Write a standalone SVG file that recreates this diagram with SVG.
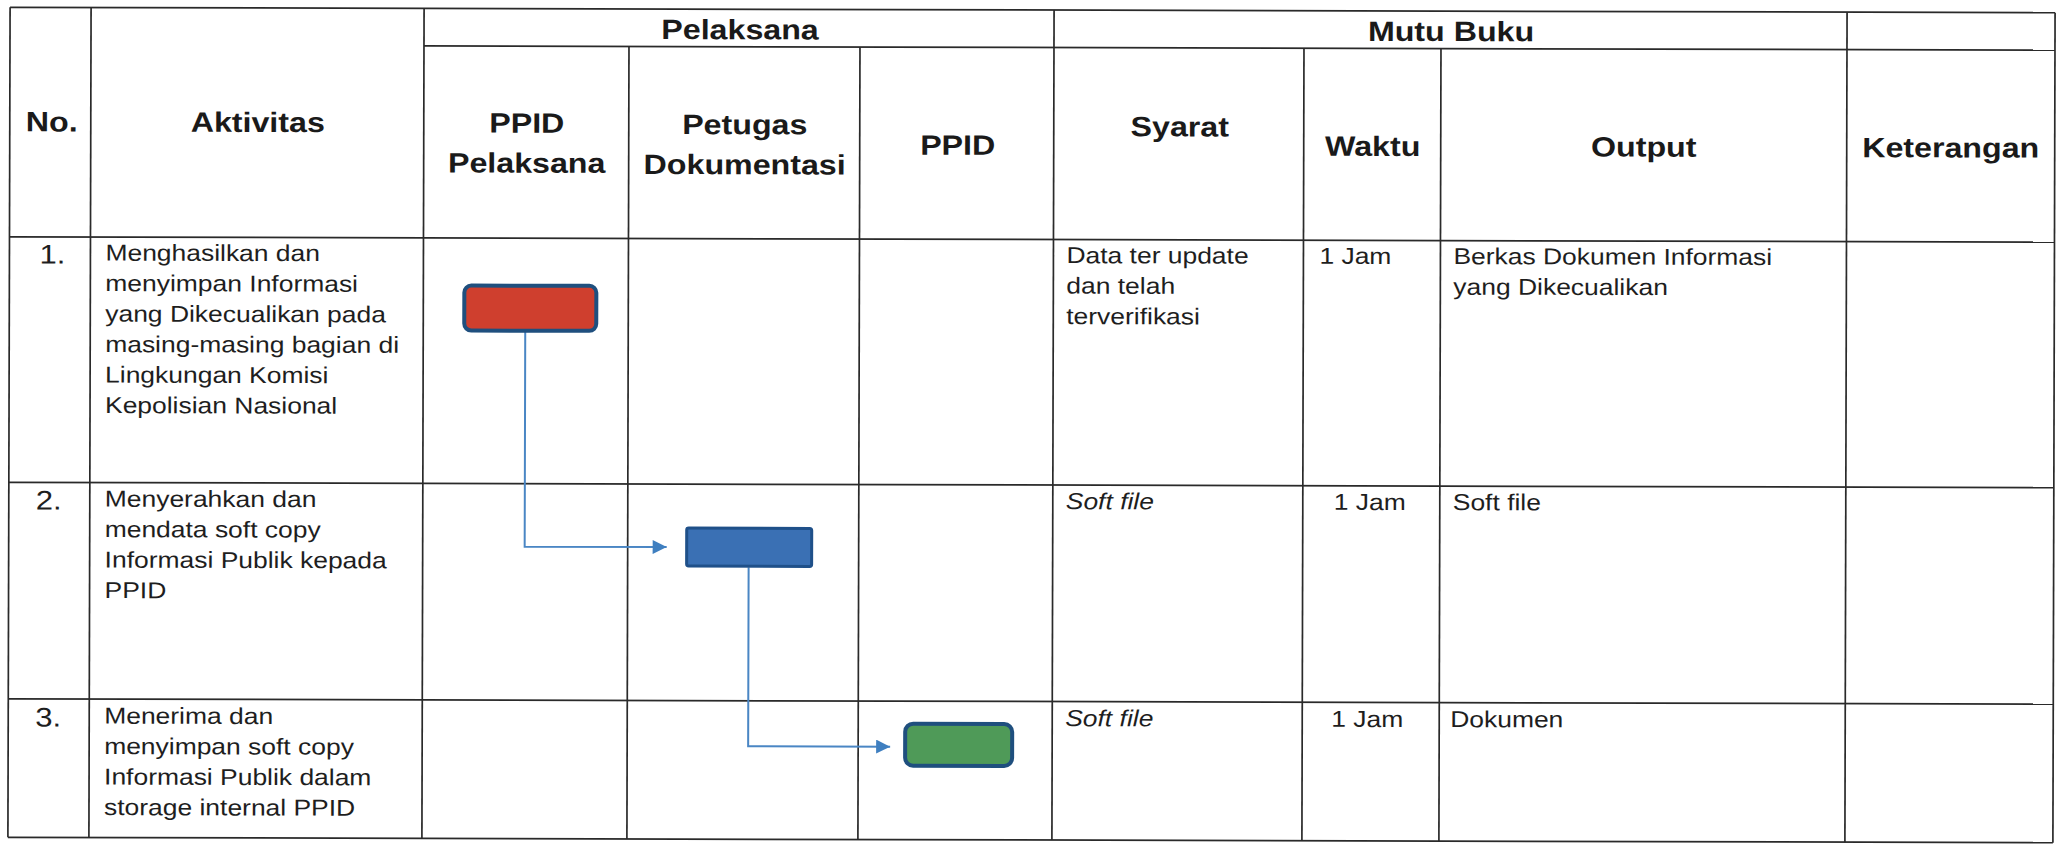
<svg xmlns="http://www.w3.org/2000/svg" width="2063" height="844" viewBox="0 0 2063 844">
<style>
.grid line{stroke:#2a2a2a;stroke-width:1.7}
.h{font-family:"Liberation Sans",Arial,sans-serif;font-weight:bold;font-size:28px;fill:#1a1a1a;text-anchor:middle}
.b{font-family:"Liberation Sans",Arial,sans-serif;font-size:23px;fill:#1e1e1e}
.n{font-family:"Liberation Sans",Arial,sans-serif;font-size:27px;fill:#1e1e1e}
.i{font-style:italic}
.conn{fill:none;stroke:#4a86c4;stroke-width:2}
</style>
<defs>
<marker id="arr" viewBox="0 0 10 10" refX="10" refY="5" markerWidth="15" markerHeight="14" markerUnits="userSpaceOnUse" orient="auto">
<path d="M0,0 L10,5 L0,10 z" fill="#3f7fc0"/>
</marker>
</defs>
<rect width="2063" height="844" fill="#ffffff"/>
<g transform="rotate(0.15 1031 422)">
<g class="grid" id="table">
<line x1="9" y1="10" x2="2054" y2="10"/>
<line x1="423" y1="47.5" x2="2054" y2="47.5"/>
<line x1="9" y1="239.5" x2="2054" y2="239.5"/>
<line x1="9" y1="485" x2="2054" y2="485"/>
<line x1="9" y1="701.5" x2="2054" y2="701.5"/>
<line x1="9" y1="840" x2="2054" y2="840"/>
<line x1="9" y1="10" x2="9" y2="840"/>
<line x1="90" y1="10" x2="90" y2="840"/>
<line x1="423" y1="10" x2="423" y2="840"/>
<line x1="628" y1="47.5" x2="628" y2="840"/>
<line x1="859" y1="47.5" x2="859" y2="840"/>
<line x1="1053" y1="10" x2="1053" y2="840"/>
<line x1="1303" y1="47.5" x2="1303" y2="840"/>
<line x1="1440" y1="47.5" x2="1440" y2="840"/>
<line x1="1846" y1="10" x2="1846" y2="840"/>
<line x1="2054" y1="10" x2="2054" y2="840"/>
</g>
<g id="header">
<text class="h" transform="translate(739,40) scale(1.15,1)">Pelaksana</text>
<text class="h" transform="translate(1450,40) scale(1.15,1)">Mutu Buku</text>
<text class="h" transform="translate(51,134) scale(1.15,1)">No.</text>
<text class="h" transform="translate(257,134) scale(1.15,1)">Aktivitas</text>
<text class="h" transform="translate(526,134) scale(1.15,1)"><tspan x="0" y="0">PPID</tspan><tspan x="0" y="40">Pelaksana</tspan></text>
<text class="h" transform="translate(744,135) scale(1.15,1)"><tspan x="0" y="0">Petugas</tspan><tspan x="0" y="40">Dokumentasi</tspan></text>
<text class="h" transform="translate(957,155) scale(1.15,1)">PPID</text>
<text class="h" transform="translate(1179,136) scale(1.15,1)">Syarat</text>
<text class="h" transform="translate(1372,155) scale(1.15,1)">Waktu</text>
<text class="h" transform="translate(1643,155) scale(1.15,1)">Output</text>
<text class="h" transform="translate(1950,155) scale(1.15,1)">Keterangan</text>
</g>
<g id="row1">
<text class="n" transform="translate(39,266) scale(1.15,1)">1.</text>
<text class="b" transform="translate(105,263) scale(1.15,1)"><tspan x="0" y="0">Menghasilkan dan</tspan><tspan x="0" y="30.5">menyimpan Informasi</tspan><tspan x="0" y="61">yang Dikecualikan pada</tspan><tspan x="0" y="91.5">masing-masing bagian di</tspan><tspan x="0" y="122">Lingkungan Komisi</tspan><tspan x="0" y="152.5">Kepolisian Nasional</tspan></text>
<text class="b" transform="translate(1066,263) scale(1.15,1)"><tspan x="0" y="0">Data ter update</tspan><tspan x="0" y="30.5">dan telah</tspan><tspan x="0" y="61">terverifikasi</tspan></text>
<text class="b" transform="translate(1319,263) scale(1.15,1)">1 Jam</text>
<text class="b" transform="translate(1453,263) scale(1.15,1)"><tspan x="0" y="0">Berkas Dokumen Informasi</tspan><tspan x="0" y="30.5">yang Dikecualikan</tspan></text>
</g>
<g id="row2">
<text class="n" transform="translate(36,512) scale(1.15,1)">2.</text>
<text class="b" transform="translate(105,509) scale(1.15,1)"><tspan x="0" y="0">Menyerahkan dan</tspan><tspan x="0" y="30.5">mendata soft copy</tspan><tspan x="0" y="61">Informasi Publik kepada</tspan><tspan x="0" y="91.5">PPID</tspan></text>
<text class="b i" transform="translate(1066,509) scale(1.15,1)">Soft file</text>
<text class="b" transform="translate(1334,509) scale(1.15,1)">1 Jam</text>
<text class="b" transform="translate(1453,509) scale(1.15,1)">Soft file</text>
</g>
<g id="row3">
<text class="n" transform="translate(36,729) scale(1.15,1)">3.</text>
<text class="b" transform="translate(105,726) scale(1.15,1)"><tspan x="0" y="0">Menerima dan</tspan><tspan x="0" y="30.5">menyimpan soft copy</tspan><tspan x="0" y="61">Informasi Publik dalam</tspan><tspan x="0" y="91.5">storage internal PPID</tspan></text>
<text class="b i" transform="translate(1066,726) scale(1.15,1)">Soft file</text>
<text class="b" transform="translate(1332,726) scale(1.15,1)">1 Jam</text>
<text class="b" transform="translate(1451,726) scale(1.15,1)">Dokumen</text>
</g>
<g id="connectors">
<path class="conn" d="M525,333 V548 H667" marker-end="url(#arr)"/>
<path class="conn" d="M749,568 V747 H891" marker-end="url(#arr)"/>
</g>
<g id="node-ppid-pelaksana">
<rect x="464" y="287" width="132" height="45" rx="7" fill="#cf3f2e" stroke="#1f4f7e" stroke-width="4"/>
</g>
<g id="node-petugas-dokumentasi">
<rect x="687" y="529" width="125" height="38" rx="2" fill="#3a70b4" stroke="#1f5089" stroke-width="3"/>
</g>
<g id="node-ppid">
<rect x="906" y="724" width="107" height="42" rx="8" fill="#4f9a58" stroke="#1f4f7e" stroke-width="4"/>
</g>
</g>
</svg>
